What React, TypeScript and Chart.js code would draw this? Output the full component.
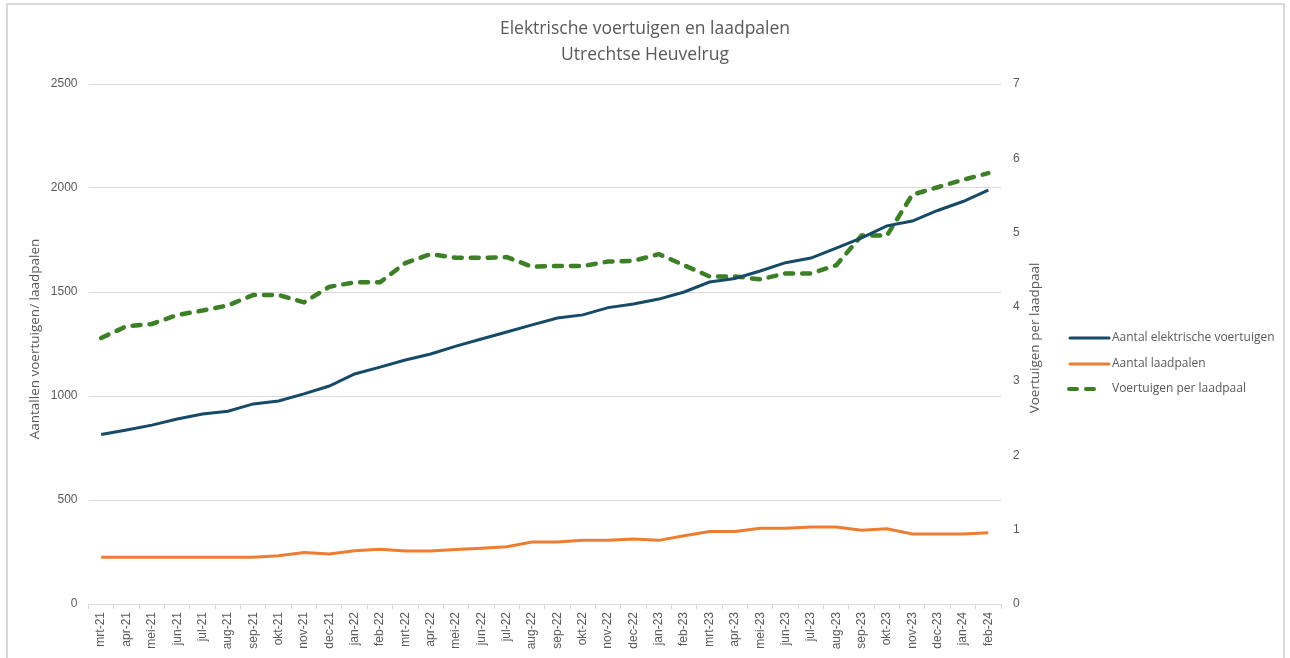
import React, { useEffect, useRef } from "react";
import { Chart, registerables } from "chart.js";

Chart.register(...registerables);

const months = [
  "mrt-21","apr-21","mei-21","jun-21","jul-21","aug-21","sep-21","okt-21","nov-21","dec-21",
  "jan-22","feb-22","mrt-22","apr-22","mei-22","jun-22","jul-22","aug-22","sep-22","okt-22",
  "nov-22","dec-22","jan-23","feb-23","mrt-23","apr-23","mei-23","jun-23","jul-23","aug-23",
  "sep-23","okt-23","nov-23","dec-23","jan-24","feb-24",
];

const voertuigen = [
  815, 837, 860, 889, 913, 927, 962, 976, 1010, 1048,
  1106, 1139, 1173, 1202, 1240, 1274, 1308, 1342, 1375, 1390,
  1425, 1442, 1466, 1500, 1548, 1565, 1601, 1641, 1663, 1711,
  1760, 1818, 1841, 1892, 1935, 1990,
];

const laadpalen = [
  225, 225, 225, 225, 225, 225, 225, 232, 248, 240,
  256, 263, 255, 255, 262, 268, 275, 298, 298, 306,
  306, 312, 306, 328, 349, 349, 364, 364, 370, 370,
  355, 362, 337, 337, 337, 343,
];

const perLaadpaal = [
  3.58, 3.74, 3.77, 3.89, 3.95, 4.02, 4.16, 4.16, 4.06, 4.27,
  4.33, 4.33, 4.59, 4.71, 4.66, 4.66, 4.67, 4.54, 4.55, 4.55,
  4.61, 4.62, 4.71, 4.56, 4.41, 4.41, 4.37, 4.45, 4.45, 4.56,
  4.96, 4.96, 5.51, 5.61, 5.71, 5.80,
];

const leftTicks = [0, 500, 1000, 1500, 2000, 2500];
const rightTicks = [0, 1, 2, 3, 4, 5, 6, 7];

const titleLines = ["Elektrische voertuigen en laadpalen", "Utrechtse Heuvelrug"];
const leftAxisTitle = "Aantallen voertuigen/ laadpalen";
const rightAxisTitle = "Voertuigen per laadpaal";
const seriesNames = ["Aantal elektrische voertuigen", "Aantal laadpalen", "Voertuigen per laadpaal"];

const BLUE = "#164a66";
const ORANGE = "#ed7d31";
const GREEN = "#3d7f26";
const TEXT = "#595959";
const GRID = "#d9d9d9";
const FONT = "'Liberation Sans', Arial, sans-serif";
const TFONT = "'Open Sans', sans-serif";

const decorPlugin = {
  id: "decor",
  afterDraw(chart: any) {
    const ctx = chart.ctx as CanvasRenderingContext2D;
    const ca = chart.chartArea;
    ctx.save();
    // title
    ctx.fillStyle = TEXT;
    ctx.font = `17.5px ${TFONT}`;
    ctx.textAlign = "center";
    ctx.textBaseline = "middle";
    ctx.fillText(titleLines[0], 645, 29);
    ctx.fillText(titleLines[1], 645, 55);

    // axis titles
    ctx.font = `13.5px ${TFONT}`;
    ctx.save();
    ctx.translate(35, 339);
    ctx.rotate(-Math.PI / 2);
    ctx.fillText(leftAxisTitle, 0, 0);
    ctx.restore();
    ctx.save();
    ctx.translate(1035, 338);
    ctx.rotate(-Math.PI / 2);
    ctx.fillText(rightAxisTitle, 0, 0);
    ctx.restore();

    // legend
    const colors = [BLUE, ORANGE, GREEN];
    const ys = [338, 364, 389];
    ctx.font = `12px ${TFONT}`;
    ctx.textAlign = "left";
    for (let i = 0; i < 3; i++) {
      ctx.beginPath();
      ctx.strokeStyle = colors[i];
      ctx.lineCap = "round";
      if (i === 2) {
        ctx.lineWidth = 4;
        ctx.setLineDash([8, 9]);
        ctx.moveTo(1069, ys[i]);
        ctx.lineTo(1100, ys[i]);
      } else {
        ctx.lineWidth = 3;
        ctx.setLineDash([]);
        ctx.moveTo(1070, ys[i]);
        ctx.lineTo(1109, ys[i]);
      }
      ctx.stroke();
      ctx.setLineDash([]);
      ctx.fillStyle = TEXT;
      ctx.fillText(seriesNames[i], 1112, ys[i]);
    }
    ctx.restore();
  },
};

export default function App() {
  const ref = useRef<HTMLCanvasElement | null>(null);

  useEffect(() => {
    if (!ref.current) return;
    const chart = new Chart(ref.current, {
      type: "line",
      data: {
        labels: months,
        datasets: [
          {
            label: seriesNames[0],
            data: voertuigen,
            borderColor: BLUE,
            backgroundColor: BLUE,
            borderWidth: 3,
            pointRadius: 0,
            tension: 0,
            yAxisID: "y",
          },
          {
            label: seriesNames[1],
            data: laadpalen,
            borderColor: ORANGE,
            backgroundColor: ORANGE,
            borderWidth: 3,
            pointRadius: 0,
            tension: 0,
            yAxisID: "y",
          },
          {
            label: seriesNames[2],
            data: perLaadpaal,
            borderColor: GREEN,
            backgroundColor: GREEN,
            borderWidth: 4.5,
            borderDash: [8, 9],
            borderCapStyle: "round",
            pointRadius: 0,
            tension: 0,
            yAxisID: "y1",
          },
        ],
      },
      options: {
        animation: false,
        responsive: false,
        maintainAspectRatio: false,
        layout: { padding: { top: 84, right: 249, bottom: 0, left: 0 } },
        plugins: {
          legend: { display: false },
          title: { display: false },
          tooltip: { enabled: false },
        },
        scales: {
          x: {
            type: "category",
            offset: true,
            border: { display: false },
            grid: {
              offset: true,
              drawOnChartArea: false,
              drawTicks: true,
              tickLength: 5,
              color: GRID,
              lineWidth: 1,
            },
            ticks: {
              autoSkip: false,
              maxRotation: 90,
              minRotation: 90,
              padding: 3,
              color: TEXT,
              font: { family: FONT, size: 12 },
            },
            afterFit(scale: any) {
              scale.height = 54;
            },
          },
          y: {
            position: "left",
            min: 0,
            max: 2500,
            border: { display: false },
            grid: { color: GRID, lineWidth: 1, drawTicks: false },
            afterBuildTicks(scale: any) {
              scale.ticks = leftTicks.map((v) => ({ value: v }));
            },
            ticks: {
              padding: 11,
              color: TEXT,
              font: { family: FONT, size: 12 },
              callback: (v: any) => String(v),
            },
            afterFit(scale: any) {
              scale.width = 88.5;
            },
          },
          y1: {
            position: "right",
            min: 0,
            max: 7,
            border: { display: false },
            grid: { drawOnChartArea: false, drawTicks: false },
            afterBuildTicks(scale: any) {
              scale.ticks = rightTicks.map((v) => ({ value: v }));
            },
            ticks: {
              padding: 12,
              color: TEXT,
              font: { family: FONT, size: 12 },
              callback: (v: any) => String(v),
            },
            afterFit(scale: any) {
              scale.width = 40;
            },
          },
        },
      },
      plugins: [decorPlugin],
    });
    return () => chart.destroy();
  }, []);

  return (
    <div style={{ position: "fixed", left: 0, top: 0, width: 1290, height: 658, background: "#fff", overflow: "hidden" }}>
      <div
        style={{
          position: "absolute",
          left: 6,
          top: 3,
          width: 1279,
          height: 700,
          border: "2px solid #d9d9d9",
          boxSizing: "border-box",
        }}
      />
      <canvas ref={ref} width={1290} height={658} style={{ position: "absolute", left: 0, top: 0 }} />
    </div>
  );
}
